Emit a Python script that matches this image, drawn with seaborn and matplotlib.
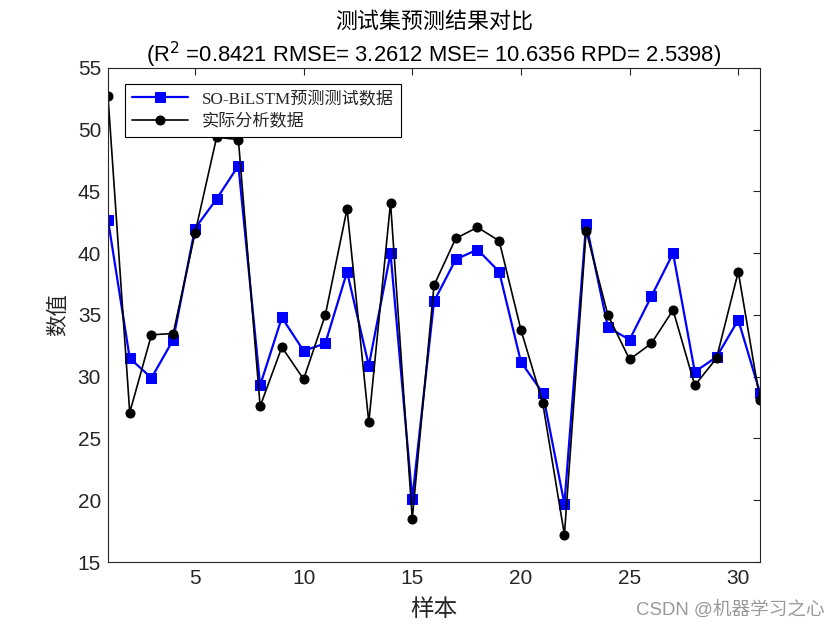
import numpy as np
import pandas as pd
import matplotlib
matplotlib.use("Agg")
import matplotlib.pyplot as plt
import seaborn as sns

samples = list(range(1, 32))
predicted = [42.7, 31.5, 29.9, 33.0, 42.0, 44.4, 47.1, 29.3, 34.8, 32.1,
             32.7, 38.5, 30.9, 40.0, 20.1, 36.1, 39.5, 40.3, 38.5, 31.2,
             28.7, 19.7, 42.4, 34.0, 33.0, 36.5, 40.0, 30.4, 31.6, 34.6, 28.7]
actual = [52.7, 27.1, 33.4, 33.5, 41.6, 49.4, 49.2, 27.6, 32.4, 29.8,
          35.0, 43.6, 26.3, 44.1, 18.5, 37.4, 41.2, 42.1, 41.0, 33.8,
          27.9, 17.2, 41.8, 35.0, 31.4, 32.7, 35.4, 29.3, 31.5, 38.5, 28.1]
label_pred = "SO-BiLSTM预测测试数据"
label_act = "实际分析数据"
x_ticks = [5, 10, 15, 20, 25, 30]
y_ticks = [15, 20, 25, 30, 35, 40, 45, 50, 55]

sns.set_style("white")
plt.rcParams['font.family'] = ['Liberation Sans', 'Noto Sans CJK SC', 'DejaVu Sans']
plt.rcParams['axes.unicode_minus'] = False

df = pd.DataFrame({"样本": samples, "pred": predicted, "act": actual})

fig = plt.figure(figsize=(8.4, 6.3), dpi=100)
ax = fig.add_axes([108/840, 1-562/630, (760-108)/840, (562-68)/630])

sns.lineplot(data=df, x="样本", y="pred", ax=ax, color="#0000ff", marker="s",
             markersize=7.2, markeredgecolor="#0000ff", linewidth=1.6, label=label_pred)
sns.lineplot(data=df, x="样本", y="act", ax=ax, color="black", marker="o",
             markersize=6.5, markeredgecolor="black", linewidth=1.2, label=label_act)

ax.set_xlim(1, 31)
ax.set_ylim(15, 55)
ax.set_xticks(x_ticks)
ax.set_yticks(y_ticks)
ax.tick_params(direction="in", length=5, width=0.8, top=True, right=True,
               labelsize=15, colors="#262626", pad=5)
for s in ax.spines.values():
    s.set_visible(True)
    s.set_color("#262626")
    s.set_linewidth(0.8)

ax.set_xlabel("样本", fontsize=17, color="#262626", family=['Noto Sans CJK SC'], labelpad=7)
ax.set_ylabel("数值", fontsize=15.5, color="#262626", family=['Noto Sans CJK SC'], labelpad=6)
ax.set_title("测试集预测结果对比\n(R$^2$ =0.8421 RMSE= 3.2612 MSE= 10.6356 RPD= 2.5398)",
             fontsize=15.8, color="black", pad=4, linespacing=1.35)

leg = ax.legend(loc="upper left", bbox_to_anchor=(0.026, 0.968), frameon=True,
                fancybox=False, edgecolor="black", framealpha=1,
                handlelength=3.3, borderpad=0.4, labelspacing=0.45, borderaxespad=0,
                prop={'family': ['Liberation Serif', 'Noto Sans CJK SC'], 'size': 12.3})
leg.get_frame().set_linewidth(0.8)

fig.text(0.982, 0.018, "CSDN @机器学习之心", ha="right", va="bottom", fontsize=13.4,
         color="#999999", family=['Liberation Sans', 'Noto Sans CJK SC'])

fig.savefig("out.png", dpi=100, facecolor="white")
